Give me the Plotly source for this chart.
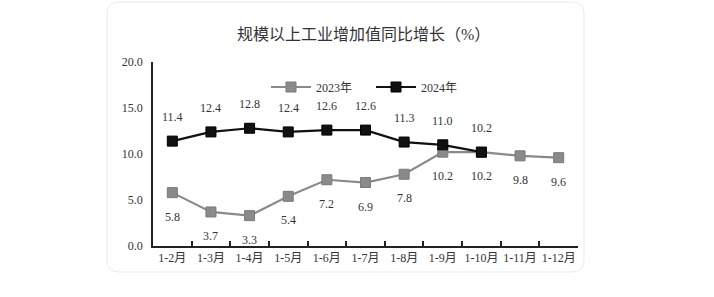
import plotly.graph_objects as go
import re

categories = ["1-2月", "1-3月", "1-4月", "1-5月", "1-6月", "1-7月", "1-8月", "1-9月", "1-10月", "1-11月", "1-12月"]
values_2023 = [5.8, 3.7, 3.3, 5.4, 7.2, 6.9, 7.8, 10.2, 10.2, 9.8, 9.6]
cats_2024 = categories[:9]
values_2024 = [11.4, 12.4, 12.8, 12.4, 12.6, 12.6, 11.3, 11.0, 10.2]
y_ticks = [0, 5, 10, 15, 20]
y_tick_labels = ["0.0", "5.0", "10.0", "15.0", "20.0"]

SERIF = "Liberation Serif, Times New Roman, Noto Sans CJK SC, serif"
TXT = "#333333"
GRAY = "#8a8a8a"
BLACK = "#111111"

W, H = 714, 297
ML, MR, MT, MB = 153, 136, 62, 51
plot_h = H - MT - MB
plot_w = W - ML - MR

def py(pix):
    return (H - MB - pix) / plot_h

def px(pix):
    return (pix - ML) / plot_w

fig = go.Figure()
fig.add_trace(go.Scatter(
    x=categories, y=values_2023, name="2023年", mode="lines+markers",
    line=dict(color=GRAY, width=2.2),
    marker=dict(symbol="square", size=10, color=GRAY, line=dict(color="#7a7a7a", width=1)),
))
fig.add_trace(go.Scatter(
    x=cats_2024, y=values_2024, name="2024年", mode="lines+markers",
    line=dict(color=BLACK, width=2.2),
    marker=dict(symbol="square", size=10, color=BLACK, line=dict(color="#000000", width=1)),
))

annotations = []
for c, v in zip(categories, values_2023):
    annotations.append(dict(x=c, y=v, xref="x", yref="y", text=f"{v:.1f}", showarrow=False,
                            yshift=-24, font=dict(family=SERIF, size=12, color=TXT)))
for c, v in zip(cats_2024, values_2024):
    annotations.append(dict(x=c, y=v, xref="x", yref="y", text=f"{v:.1f}", showarrow=False,
                            yshift=24, font=dict(family=SERIF, size=12, color=TXT)))
annotations.append(dict(x=px(363), y=py(34), xref="paper", yref="paper", yanchor="middle",
                        text="规模以上工业增加值同比增长（%）",
                        showarrow=False, font=dict(family=SERIF, size=16, color=TXT)))

X0, X1, Y0, Y1 = 107, 584, 2, 272
rad = 12
path = (f"M {X0+rad},{Y0} L {X1-rad},{Y0} Q {X1},{Y0} {X1},{Y0+rad} "
        f"L {X1},{Y1-rad} Q {X1},{Y1} {X1-rad},{Y1} L {X0+rad},{Y1} "
        f"Q {X0},{Y1} {X0},{Y1-rad} L {X0},{Y0+rad} Q {X0},{Y0} {X0+rad},{Y0} Z")

def conv(m):
    a, b = float(m.group(1)), float(m.group(2))
    return f"{px(a):.5f},{py(b):.5f}"

paper_path = re.sub(r"([-\d.]+),([-\d.]+)", conv, path)

fig.update_layout(
    width=W, height=H,
    margin=dict(l=ML, r=MR, t=MT, b=MB),
    paper_bgcolor="white", plot_bgcolor="white",
    showlegend=True,
    legend=dict(orientation="h", x=px(266), y=py(87), xanchor="left", yanchor="middle",
                font=dict(family=SERIF, size=12, color=TXT), itemwidth=40,
                entrywidth=50, entrywidthmode="pixels",
                bgcolor="rgba(0,0,0,0)"),
    font=dict(family=SERIF, color=TXT),
    annotations=annotations,
    shapes=[dict(type="path", xref="paper", yref="paper", path=paper_path,
                 line=dict(color="#ebebeb", width=1), fillcolor="rgba(0,0,0,0)",
                 layer="below")],
)

fig.update_xaxes(
    type="category", categoryarray=categories, range=[-0.5, 10.5],
    showline=True, linecolor="#222", linewidth=1.5,
    ticks="inside", tickson="boundaries", ticklen=5, tickcolor="#222", tickwidth=1.5,
    showgrid=False, zeroline=False, tickangle=0,
    tickfont=dict(family=SERIF, size=12, color=TXT),
)
fig.update_yaxes(
    range=[0, 20], tickvals=y_ticks, ticktext=y_tick_labels,
    showline=True, linecolor="#222", linewidth=1.5,
    ticks="", showgrid=False, zeroline=False,
    tickfont=dict(family=SERIF, size=12, color=TXT), ticklabelstandoff=6,
)

fig.write_html("out.html")
